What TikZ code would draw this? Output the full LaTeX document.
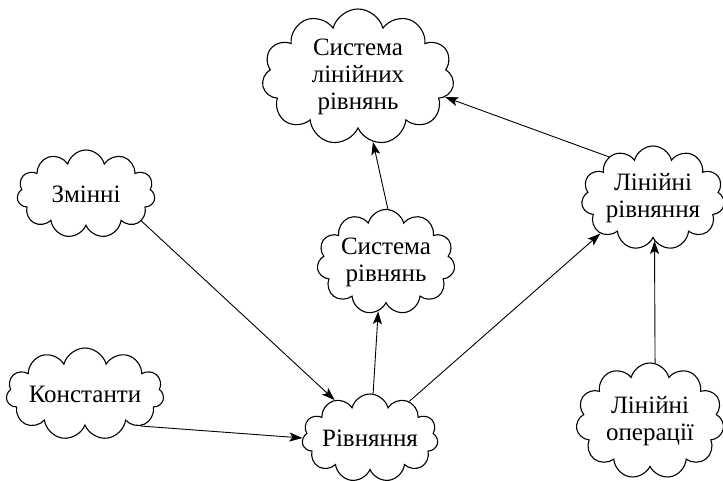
\documentclass[tikz,border=0pt]{standalone}
\usepackage{fontspec}
\setmainfont{Liberation Serif}
\newfontfamily\serifcyr{Liberation Serif}
\usetikzlibrary{shapes.symbols,arrows.meta}
\tikzset{
  cl/.style={cloud, draw, line width=1.1pt, cloud puffs=11, cloud puff arc=150,
    cloud ignores aspect, align=center, inner sep=0pt,
    font=\serifcyr\fontsize{25}{27}\selectfont},
  conn/.style={line width=0.9pt, -{Stealth[length=13pt,width=9pt,inset=3pt]}}
}
\begin{document}
\begin{tikzpicture}[x=1pt,y=-1pt]
\useasboundingbox (0,0) rectangle (723,481);
\clip (0,0) rectangle (723,481);
\node[cl, minimum width=192pt, minimum height=136pt] (slr) at (358,77) {Система\\лінійних\\рівнянь};
\node[cl, minimum width=138pt, minimum height=88pt] (zm) at (86,194) {Змінні};
\node[cl, minimum width=156pt, minimum height=92pt] (ks) at (85,394) {Константи};
\node[cl, minimum width=136pt, minimum height=88pt] (rv) at (370,438) {Рівняння};
\node[cl, minimum width=138pt, minimum height=105pt] (sr) at (386,262) {Система\\рівнянь};
\node[cl, minimum width=140pt, minimum height=104pt] (lr) at (653,198) {Лінійні\\рівняння};
\node[cl, minimum width=148pt, minimum height=116pt] (lo) at (650,421) {Лінійні\\операції};
\draw[conn] (zm.-26) -- (rv.133);
\draw[conn] (ks.-30) -- (rv.180);
\draw[conn] (rv.86) -- (sr.-99);
\draw[conn] (rv.43) -- (lr.-146);
\draw[conn] (sr.88) -- (slr.-77);
\draw[conn] (lr.137) -- (slr.-13);
\draw[conn] (lo.85) -- (lr.-88);
\end{tikzpicture}
\end{document}
